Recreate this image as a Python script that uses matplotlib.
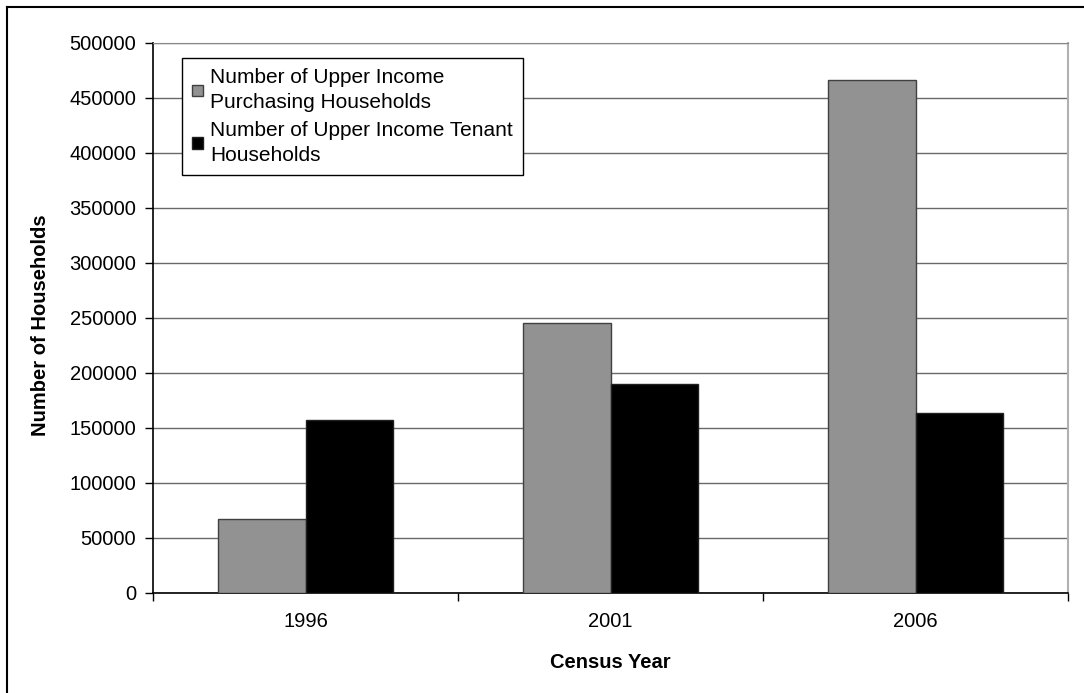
import matplotlib
matplotlib.use("Agg")
import matplotlib.pyplot as plt
from matplotlib.lines import Line2D
import numpy as np

years = ["1996", "2001", "2006"]
purchasing = [67000, 245000, 466000]
tenant = [157000, 190000, 163000]
series_labels = ["Number of Upper Income\nPurchasing Households",
                 "Number of Upper Income Tenant\nHouseholds"]
yticks = [0, 50000, 100000, 150000, 200000, 250000, 300000, 350000, 400000, 450000, 500000]

plt.rcParams['font.family'] = ['Liberation Sans', 'DejaVu Sans']

W, H = 1084, 693
fig = plt.figure(figsize=(W / 100, H / 100), dpi=100)
ax = fig.add_axes([153 / W, 1 - 592.7 / H, (1068 - 153) / W, (592.7 - 42.7) / H])

x = np.arange(len(years))
bw = 1 / 3.5
ax.bar(x - bw / 2, purchasing, width=bw, color='#929292', edgecolor='#404040', linewidth=1.0, zorder=3,
       label=series_labels[0])
ax.bar(x + bw / 2, tenant, width=bw, color='#000000', edgecolor='#202020', linewidth=1.0, zorder=3,
       label=series_labels[1])

ax.set_xlim(-0.5, 2.5)
ax.set_ylim(0, 500000)
ax.set_yticks(yticks)
ax.set_yticklabels([str(v) for v in yticks], fontsize=14.5)
ax.yaxis.grid(True, color='#6a6a6a', linewidth=1.0, zorder=0)
ax.set_axisbelow(True)

ax.set_xticks(x)
ax.set_xticklabels(years, fontsize=14.5)
ax.tick_params(axis='x', which='major', length=0, pad=14)
ax.set_xticks([-0.5, 0.5, 1.5, 2.5], minor=True)
ax.tick_params(axis='x', which='minor', length=6, direction='out', color='black', width=1)
ax.tick_params(axis='y', length=6, direction='out', color='black', width=1, pad=6)

for s in ['left', 'bottom']:
    ax.spines[s].set_color('black')
    ax.spines[s].set_linewidth(1.2)
ax.spines['top'].set_color('#888888')
ax.spines['right'].set_color('#b0b0b0')
ax.spines['right'].set_linewidth(1.5)

ax.set_xlabel("Census Year", fontsize=14.5, fontweight='bold', labelpad=16)
ax.set_ylabel("Number of Households", fontsize=14.5, fontweight='bold')
ax.yaxis.set_label_coords(-(153 - 50) / 915, (592.7 - 325) / 550)

leg = ax.legend(loc='upper left', bbox_to_anchor=((182 - 153) / 915, 1 - (58 - 42.7) / 550),
                fontsize=15, frameon=True, fancybox=False, edgecolor='black', framealpha=1,
                handlelength=0.5, handleheight=0.5, handletextpad=0.35, borderpad=0.5,
                labelspacing=0.4, borderaxespad=0)
for t in leg.get_texts():
    t.set_linespacing(1.4)
leg.get_frame().set_linewidth(1.0)
leg.set_zorder(5)

# outer chart border (top and left visible)
fig.add_artist(Line2D([6.5 / W, 6.5 / W], [0, 1 - 6.5 / H], color='black', linewidth=1.5, transform=fig.transFigure))
fig.add_artist(Line2D([6.5 / W, 1], [1 - 6.5 / H, 1 - 6.5 / H], color='black', linewidth=1.5, transform=fig.transFigure))

fig.savefig("out.png", dpi=100)
